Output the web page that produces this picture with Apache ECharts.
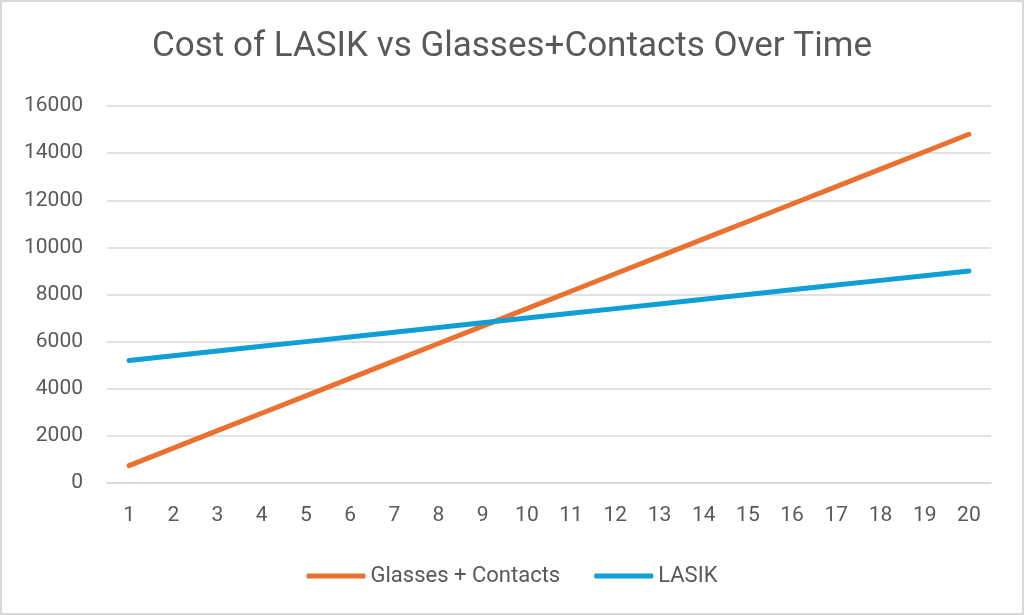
<!DOCTYPE html>
<html><head><meta charset="utf-8">
<script src="https://cdn.jsdelivr.net/npm/echarts@6/dist/echarts.min.js"></script>
<style>
html,body{margin:0;padding:0;background:#fff;}
#c{position:absolute;left:0;top:0;width:1024px;height:615px;}
#b{position:absolute;left:0;top:0;width:1020px;height:611px;border:2px solid #d9d9d9;pointer-events:none;}
</style></head>
<body><div id="c"></div><div id="b"></div>
<script>
const years = ['1','2','3','4','5','6','7','8','9','10','11','12','13','14','15','16','17','18','19','20'];
const glassesContacts = [740,1480,2220,2960,3700,4440,5180,5920,6660,7400,8140,8880,9620,10360,11100,11840,12580,13320,14060,14800];
const lasik = [5200,5400,5600,5800,6000,6200,6400,6600,6800,7000,7200,7400,7600,7800,8000,8200,8400,8600,8800,9000];
const yTicks = {min:0, max:16000, interval:2000};

const FONT = 'Roboto, Liberation Sans, Arial';
const chart = echarts.init(document.getElementById('c'));
chart.setOption({
  animation:false,
  title:{text:'Cost of LASIK vs Glasses+Contacts Over Time', left:'center', top:25,
    textStyle:{fontFamily:FONT, fontSize:35, fontWeight:'normal', color:'#595959'}},
  legend:{top:560, left:'center', itemWidth:59, itemHeight:5, itemGap:34, icon:'roundRect',
    textStyle:{fontFamily:FONT, fontSize:22, color:'#595959'},
    data:['Glasses + Contacts','LASIK']},
  grid:{left:107, right:33, top:106, bottom:132},
  xAxis:{type:'category', data:years, boundaryGap:true,
    axisLine:{show:true, lineStyle:{color:'#d9d9d9', width:1.5}}, axisTick:{show:false},
    axisLabel:{fontFamily:FONT, fontSize:21, color:'#595959', margin:22}},
  yAxis:{type:'value', min:yTicks.min, max:yTicks.max, interval:yTicks.interval,
    axisLine:{show:false}, axisTick:{show:false},
    splitLine:{lineStyle:{color:'#d9d9d9', width:1.5}},
    axisLabel:{fontFamily:FONT, fontSize:21, color:'#595959', margin:24, formatter:v=>String(v)}},
  series:[
    {name:'Glasses + Contacts', type:'line', data:glassesContacts, showSymbol:false, symbol:'none',
      lineStyle:{color:'#E97132', width:5, cap:'round'}, itemStyle:{color:'#E97132'}},
    {name:'LASIK', type:'line', data:lasik, showSymbol:false, symbol:'none',
      lineStyle:{color:'#0F9ED5', width:5, cap:'round'}, itemStyle:{color:'#0F9ED5'}}
  ]
});
</script></body></html>
